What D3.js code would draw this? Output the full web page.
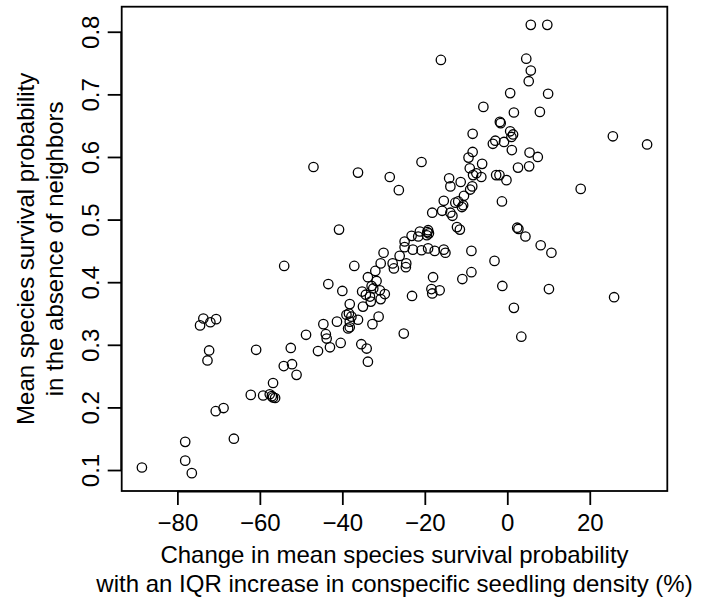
<!DOCTYPE html>
<html>
<head>
<meta charset="utf-8">
<script src="https://cdn.jsdelivr.net/npm/d3@7"></script>
<style>
  html, body { margin: 0; padding: 0; background: #fff; }
  svg { display: block; }
  text { font-family: "Liberation Sans", Arial, Helvetica, sans-serif; fill: #000; }
</style>
</head>
<body>
<svg id="chart" width="707" height="600"></svg>
<script>
// Change in mean species survival probability (%) with an IQR increase in conspecific density
const changePct = [
  -16.1, 0.7, -5.8, 1.6, -1.8, -1.6, 0.7, 1.4, 1.0, -8.4,
  -2.9, -3.5, -0.8, 1.1, -8.4, -9.4, -6.1, -9.1, -20.8, -47.0,
  -36.2, 5.7, 9.7, 4.6, 5.7, 5.2, 9.9, 7.9, 5.4, 7.4,
  25.6, 33.9, 2.6, 5.3, -0.2, -1.9, 17.8, -1.3, 2.4, 2.7,
  4.4, 8.1, 10.7, -3.1, -1.2, 10.1, 25.9, 1.6, 3.4,
  -28.5, -26.3, -7.5, -8.3, -2.7, -6.3, -14.1, -11.3, -13.8, -8.5,
  -9.0, -10.5, -15.4, -12.6, -11.9, -10.7, -11.0, -18.2, -15.8, -13.8,
  -13.3, -40.8, -12.2, -11.5, -19.2, -19.4, -19.0, -19.5, -21.2, -21.6,
  -23.2, -24.9, -24.9, -22.9, -20.8, -19.2, -17.6, -15.4, -15.0, -8.7,
  -30.0, -26.1, -30.7, -27.8, -27.5, -24.5, -24.6, -37.1, -32.0, -8.7,
  -10.9, -33.8, -31.7, -32.9, -32.5, -43.4, -40.0, -18.0, -35.2, -34.3,
  -30.9, -29.7, -30.7, -33.1, -33.3, -18.4, -18.2, -16.4, -23.1, -38.2,
  -35.0, -38.4, -39.0, -37.8, -38.2, -36.2, -41.3, -44.6, -31.2, -32.7,
  -38.2, -38.6, -44.0, -43.8, -45.9, -43.0, -40.4, -35.4, -34.1, -33.8,
  -25.1, -48.8,
  -74.5, -73.7, -72.0, -70.6, -72.3, -72.7, -60.9, -52.5, -54.2, -52.2,
  -51.1, -56.8, -62.2, -59.2, -57.6, -57.1, -56.8, -56.3, -70.7, -68.8,
  -66.3, -78.1, -78.1, -76.5, -88.6, -54.1
];
// Mean species survival probability in the absence of neighbors
const survival = [
  0.755, 0.702, 0.680, 0.671, 0.656, 0.654, 0.641, 0.636, 0.632, 0.637,
  0.626, 0.621, 0.624, 0.611, 0.608, 0.599, 0.589, 0.582, 0.592, 0.584,
  0.575, 0.811, 0.811, 0.757, 0.738, 0.721, 0.701, 0.672, 0.607, 0.600,
  0.633, 0.620, 0.583, 0.585, 0.563, 0.571, 0.549, 0.529, 0.487, 0.485,
  0.473, 0.459, 0.447, 0.434, 0.394, 0.389, 0.376, 0.359, 0.313,
  0.568, 0.547, 0.574, 0.571, 0.571, 0.568, 0.566, 0.560, 0.553, 0.553,
  0.548, 0.538, 0.530, 0.527, 0.529, 0.523, 0.520, 0.511, 0.514, 0.511,
  0.506, 0.484, 0.488, 0.484, 0.483, 0.480, 0.478, 0.475, 0.481, 0.473,
  0.474, 0.465, 0.456, 0.452, 0.451, 0.454, 0.450, 0.452, 0.447, 0.450,
  0.447, 0.442, 0.430, 0.430, 0.422, 0.430, 0.424, 0.426, 0.418, 0.416,
  0.405, 0.408, 0.402, 0.394, 0.390, 0.397, 0.386, 0.408, 0.385, 0.380,
  0.387, 0.381, 0.373, 0.369, 0.377, 0.389, 0.382, 0.387, 0.378, 0.365,
  0.361, 0.350, 0.348, 0.345, 0.337, 0.340, 0.337, 0.333, 0.345, 0.333,
  0.328, 0.326, 0.317, 0.310, 0.290, 0.296, 0.303, 0.301, 0.294, 0.273,
  0.318, 0.316,
  0.331, 0.342, 0.336, 0.341, 0.291, 0.275, 0.292, 0.295, 0.266, 0.269,
  0.252, 0.239, 0.220, 0.219, 0.221, 0.218, 0.216, 0.215, 0.194, 0.199,
  0.150, 0.145, 0.115, 0.095, 0.104, 0.426
];
const xTicks = [-80, -60, -40, -20, 0, 20];
const yTicks = [0.1, 0.2, 0.3, 0.4, 0.5, 0.6, 0.7, 0.8];
const xTitleLines = ["Change in mean species survival probability",
                     "with an IQR increase in conspecific seedling density (%)"];
const yTitleLines = ["Mean species survival probability",
                     "in the absence of neighbors"];

const svg = d3.select("#chart");
const box = { left: 121.7, right: 667.3, top: 6.7, bottom: 491 };

const x = d3.scaleLinear().domain([-93.5, 38.8]).range([box.left, box.right]);
const y = d3.scaleLinear().domain([0.0665, 0.840]).range([box.bottom, box.top]);

const fmtX = d => (d < 0 ? "\u2212" + Math.abs(d) : String(d));

// points
const pts = changePct.map((v, i) => ({ x: v, y: survival[i] }));
svg.append("g").selectAll("circle").data(pts).join("circle")
  .attr("cx", d => x(d.x)).attr("cy", d => y(d.y)).attr("r", 4.7)
  .attr("fill", "none").attr("stroke", "#000").attr("stroke-width", 1.3);

// box
svg.append("rect").attr("x", box.left).attr("y", box.top)
  .attr("width", box.right - box.left).attr("height", box.bottom - box.top)
  .attr("fill", "none").attr("stroke", "#000").attr("stroke-width", 1.8);

// x axis
const xAxis = d3.axisBottom(x).tickValues(xTicks).tickSize(14).tickPadding(6).tickFormat(fmtX);
const gx = svg.append("g").attr("transform", `translate(0,${box.bottom})`).call(xAxis);
gx.select(".domain").attr("d", `M${x(-80)},0.5H${x(20)}`).attr("stroke-width", 1.8);
gx.selectAll(".tick line").attr("stroke-width", 1.8);
gx.selectAll(".tick text").attr("font-size", 24).attr("dy", null).attr("y", 40)
  .style("font-family", "'Liberation Sans', Arial, sans-serif");

// y axis
const yAxis = d3.axisLeft(y).tickValues(yTicks).tickSize(14).tickFormat(d3.format(".1f"));
const gy = svg.append("g").attr("transform", `translate(${box.left},0)`).call(yAxis);
gy.select(".domain").attr("d", `M-0.5,${y(0.1)}V${y(0.8)}`).attr("stroke-width", 1.8);
gy.selectAll(".tick line").attr("stroke-width", 1.8);
gy.selectAll(".tick text").attr("font-size", 24).attr("x", null).attr("dy", null)
  .attr("text-anchor", "middle")
  .attr("transform", "translate(-23,0) rotate(-90)")
  .style("font-family", "'Liberation Sans', Arial, sans-serif");

// x title
const cx = (box.left + box.right) / 2;
svg.append("g").selectAll("text").data(xTitleLines).join("text")
  .attr("x", cx).attr("y", (d, i) => 563 + i * 29)
  .attr("text-anchor", "middle").attr("font-size", 24).text(d => d);

// y title
const cy = (box.top + box.bottom) / 2;
svg.append("g").selectAll("text").data(yTitleLines).join("text")
  .attr("transform", (d, i) => `translate(${34 + i * 29},${cy}) rotate(-90)`)
  .attr("text-anchor", "middle").attr("font-size", 24).text(d => d);
</script>
</body>
</html>
